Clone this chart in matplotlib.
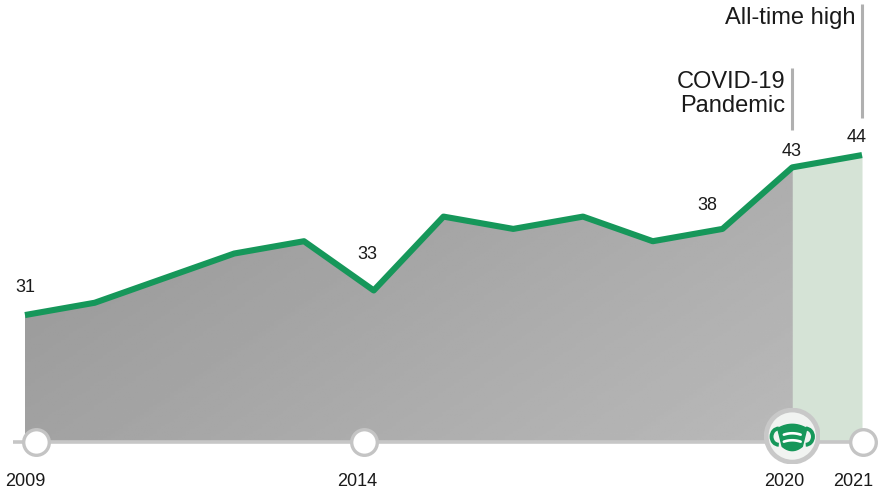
import numpy as np
import matplotlib.pyplot as plt
from matplotlib.patches import Circle, Polygon, Arc

plt.rcParams["font.family"] = ["Liberation Sans", "DejaVu Sans"]

# data
years = [2009, 2010, 2011, 2012, 2013, 2014, 2015, 2016, 2017, 2018, 2019, 2020, 2021]
values = [31, 32, 34, 36, 37, 33, 39, 38, 39, 37, 38, 43, 44]

labelled_years = [2009, 2014, 2019, 2020, 2021]
# offsets of the value labels, in pixels (dx, dy)
label_offsets = [(0, 28), (-6, 36), (-15, 23), (-1, 16), (-5, 18)]

timeline_years = [2009, 2014, 2020, 2021]
timeline_labels = ["2009", "2014", "2020", "2021"]
marker_shift = [11, -10, 0, 1]   # pixels
year_label_shift = [0, -17, -8, -9]

event_years = [2020, 2021]
event_texts = ["COVID-19\nPandemic", "All-time high"]
event_line_top = [51.1, 56.3]

green = "#16975a"
text_color = "#1a1a1a"
baseline = 20.68

W, H = 880, 494
fig = plt.figure(figsize=(W / 100, H / 100), dpi=100)
ax = fig.add_axes([0, 0, 1, 1])
ax.set_xlim(2008.642, 2021.258)
ax.set_ylim(16.46, 56.6)
ax.axis("off")

px_per_year = W / (2021.258 - 2008.642)

# grey "photo" area under the line: darker on the left, lighter to the right
verts = [(years[0], baseline)] + list(zip(years, values)) + [(years[-1], baseline)]
area = Polygon(verts, closed=True, facecolor="none", edgecolor="none")
ax.add_patch(area)
gx = np.linspace(0, 1, 200)
gy = np.linspace(0, 1, 120)
shade = 0.585 + 0.10 * gx[None, :] + 0.05 * (1 - gy[:, None])
im = ax.imshow(shade, extent=[years[0], years[-1], baseline, max(values)],
               origin="lower", aspect="auto", cmap="gray", vmin=0, vmax=1, zorder=1)
im.set_clip_path(area)

# pandemic period tinted green
ax.fill_between(years[-2:], baseline, values[-2:], color="#d5e3d6", zorder=2, lw=0)

# the line
ax.plot(years, values, color=green, lw=4.4, solid_joinstyle="round",
        solid_capstyle="butt", zorder=4)

# value labels
for yr, (dx, dy) in zip(labelled_years, label_offsets):
    v = values[years.index(yr)]
    ax.annotate(str(v), (yr, v), xytext=(dx, dy), textcoords="offset pixels",
                ha="center", va="center", fontsize=13, color=text_color, zorder=5)

# timeline at the bottom
ax.plot([years[0] - 12 / px_per_year, years[-1]], [baseline, baseline],
        color="#c6c6c6", lw=2.6, zorder=3, solid_capstyle="butt")
small = [(y, s) for y, s in zip(timeline_years, marker_shift) if y != 2020]
ax.scatter([y + s / px_per_year for y, s in small], [baseline] * len(small),
           s=340, facecolor="white", edgecolor="#c4c4c4", linewidth=2.4, zorder=6)

for yr, lab, s in zip(timeline_years, timeline_labels, year_label_shift):
    ax.annotate(lab, (yr, baseline), xytext=(s, -39), textcoords="offset pixels",
                ha="center", va="center", fontsize=13, color=text_color)

# event markers
for yr, txt, top in zip(event_years, event_texts, event_line_top):
    v = values[years.index(yr)]
    ax.plot([yr, yr], [v + 3.0, top], color="#b0b0b0", lw=2.2, zorder=3,
            solid_capstyle="butt")
    ax.annotate(txt, (yr, top), xytext=(-7, -3), textcoords="offset pixels",
                ha="right", va="top", fontsize=17, color=text_color,
                linespacing=1.12)

# big circle with the mask icon at 2020
cx, cy = ax.transData.transform((2020, baseline))
r = 28
ins = fig.add_axes([(cx - r) / W, (cy - r + 6) / H, 2 * r / W, 2 * r / H])
ins.set_xlim(-1, 1)
ins.set_ylim(-1, 1)
ins.axis("off")
ins.add_patch(Circle((0, 0), 0.93, facecolor="#f1f3f1", edgecolor="#c8c8c8", lw=3.4))

xs = np.linspace(-0.52, 0.52, 40)
top_edge = [(x, 0.42 - 0.15 * (x / 0.52) ** 2) for x in xs]
xb = np.linspace(0.36, -0.36, 40)
bottom_edge = [(x, -0.52 + 0.15 * (x / 0.36) ** 2) for x in xb]
ins.add_patch(Polygon(top_edge + bottom_edge, closed=True, facecolor=green,
                      edgecolor=green, lw=1, joinstyle="round"))
ins.add_patch(Arc((0.48, -0.02), 0.52, 0.58, theta1=-90, theta2=90,
                  color=green, lw=2.8))
ins.add_patch(Arc((-0.48, -0.02), 0.52, 0.58, theta1=90, theta2=270,
                  color=green, lw=2.8))
xl = np.linspace(-0.3, 0.3, 30)
for c in [0.1, -0.15]:
    ins.plot(xl, c - 0.05 * (xl / 0.3) ** 2, color="white", lw=1.9,
             solid_capstyle="round")

fig.savefig("out.png", dpi=100)
